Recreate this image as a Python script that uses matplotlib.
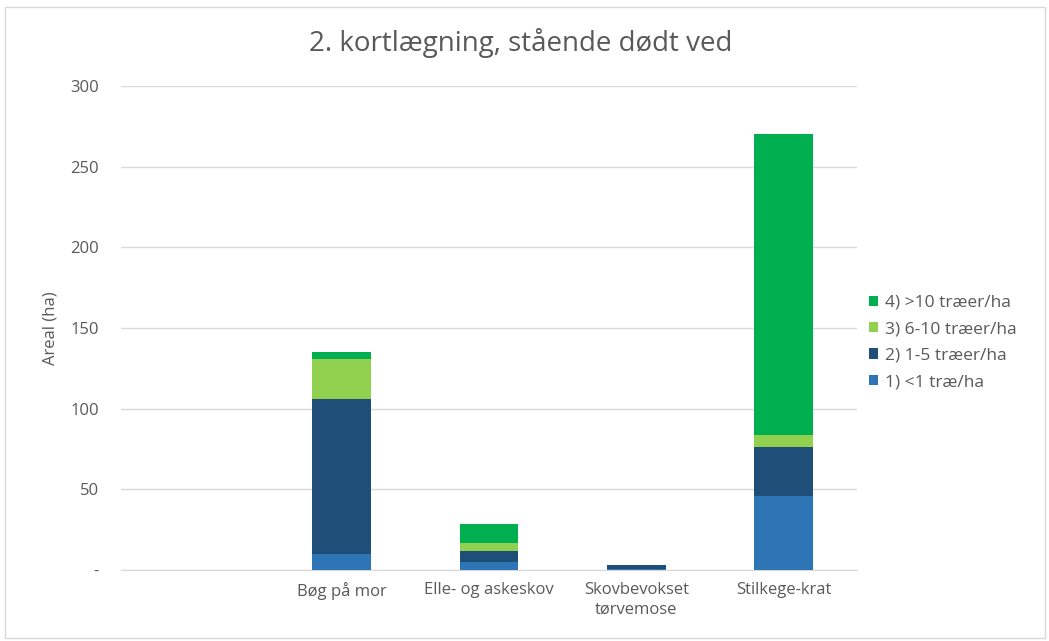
import matplotlib
matplotlib.use("Agg")
import matplotlib.pyplot as plt
from matplotlib.patches import Rectangle
import numpy as np

plt.rcParams['font.family'] = ['Open Sans', 'DejaVu Sans']

categories = ["", "Bøg på mor", "Elle- og askeskov", "Skovbevokset\ntørvemose", "Stilkege-krat"]
series_names = ["1) <1 træ/ha", "2) 1-5 træer/ha", "3) 6-10 træer/ha", "4) >10 træer/ha"]
under_1 = [0, 10, 5, 0.4, 46]
from_1_to_5 = [0, 96, 7, 2.4, 30]
from_6_to_10 = [0, 25, 4.5, 0, 7.5]
over_10 = [0, 4, 12, 0, 187]
series_colors = ["#2E75B6", "#1F4E79", "#92D050", "#00B050"]
y_ticks = [0, 50, 100, 150, 200, 250, 300]
y_tick_labels = ["-", "50", "100", "150", "200", "250", "300"]

fig = plt.figure(figsize=(10.49, 6.41), dpi=100)
ax = fig.add_axes([121 / 1049, 71 / 641, 736 / 1049, 484 / 641])

x = np.arange(len(categories))
bottom = np.zeros(len(categories))
handles = []
for vals, name, col in zip([under_1, from_1_to_5, from_6_to_10, over_10], series_names, series_colors):
    vals = np.array(vals, dtype=float)
    b = ax.bar(x, vals, width=0.4, bottom=bottom, color=col, label=name, zorder=3)
    handles.append(b)
    bottom += vals

ax.set_xlim(-0.5, len(categories) - 0.5)
ax.set_ylim(0, 300)
ax.set_yticks(y_ticks)
ax.set_yticklabels(y_tick_labels)
ax.set_xticks(x)
ax.set_xticklabels(categories, linespacing=1.3)
ax.grid(axis='y', color='#D9D9D9', linewidth=1, zorder=0)
for s in ['top', 'right', 'left']:
    ax.spines[s].set_visible(False)
ax.spines['bottom'].set_color('#D9D9D9')
ax.tick_params(axis='both', length=0, colors='#595959', labelsize=12)
ax.tick_params(axis='y', pad=16)
ax.tick_params(axis='x', pad=9)
ax.set_ylabel("Areal (ha)", color='#595959', fontsize=12, labelpad=8)

fig.text(521 / 1049, 1 - 43 / 641, "2. kortlægning, stående dødt ved", ha='center', va='center',
         fontsize=20, color='#595959')

leg = ax.legend(handles[::-1], series_names[::-1], loc='center left', bbox_to_anchor=(0.995, 0.47),
                frameon=False, fontsize=12.5, handlelength=0.55, handleheight=0.55,
                labelspacing=0.6, handletextpad=0.35)
for t in leg.get_texts():
    t.set_color('#595959')

fig.patches.append(Rectangle((5 / 1049, 3 / 641), 1040 / 1049, 631 / 641, transform=fig.transFigure,
                             fill=False, edgecolor='#D9D9D9', linewidth=1))

fig.savefig("out.png", dpi=100)
